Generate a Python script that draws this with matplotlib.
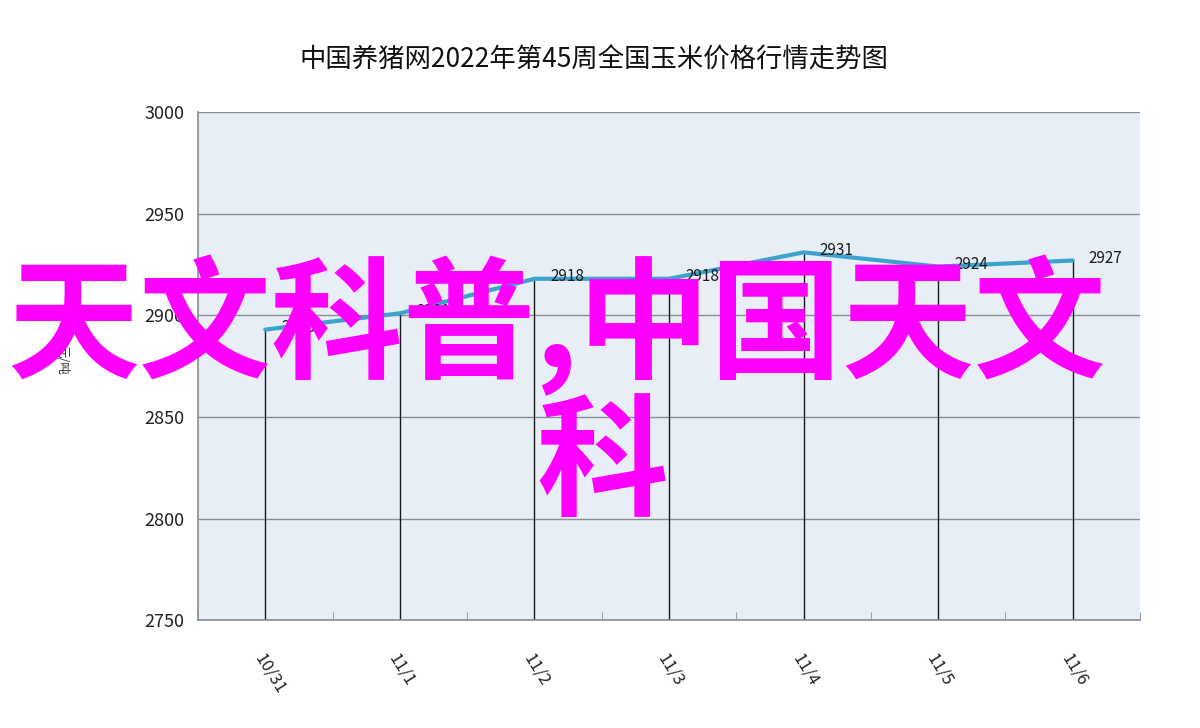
import matplotlib
matplotlib.use("Agg")
import matplotlib.pyplot as plt
import numpy as np

plt.rcParams["font.family"] = ["Noto Sans CJK SC", "DejaVu Sans"]

# ── Data ───────────────────────────────────────────────────────────────
dates = ["10/31", "11/1", "11/2", "11/3", "11/4", "11/5", "11/6"]
prices = [2893, 2901, 2918, 2918, 2931, 2924, 2927]
y_ticks = [2750, 2800, 2850, 2900, 2950, 3000]

title = "中国养猪网2022年第45周全国玉米价格行情走势图"
y_unit = "元/吨"
overlay_line1 = "天文科普,中国天文"
overlay_line2 = "科"

# ── Figure ─────────────────────────────────────────────────────────────
fig = plt.figure(figsize=(12, 7.28), dpi=100)
fig.patch.set_facecolor("white")
ax = fig.add_axes([0.165, 0.148, 0.785, 0.698])
ax.set_facecolor("#e8eef6")

x = np.arange(len(dates))

# horizontal grid
for yv in y_ticks:
    ax.axhline(yv, color="#8a8f96", linewidth=1.0, zorder=1)

# drop lines from each point down to the axis
ax.vlines(x, y_ticks[0], prices, color="#1a1a1a", linewidth=1.0, zorder=2)

# price line
ax.plot(x, prices, color="#3ba3cc", linewidth=3, solid_joinstyle="round",
        solid_capstyle="round", zorder=3)

# value labels
for xi, p in zip(x, prices):
    ax.text(xi + 0.12, p + 1.0, str(p), fontsize=11, color="#1a1a1a",
            fontweight="medium", ha="left", va="center", zorder=4)

ax.set_xlim(-0.5, len(dates) - 0.5)
ax.set_ylim(y_ticks[0], y_ticks[-1])
ax.set_yticks(y_ticks)
ax.set_xticks(x)
ax.set_xticklabels(dates, rotation=-58, ha="left", va="top",
                   rotation_mode="anchor", fontsize=12, color="#222222")
ax.set_xticks(np.arange(-0.5, len(dates), 1), minor=True)
ax.tick_params(axis="x", which="major", length=0, pad=22)
ax.tick_params(axis="x", which="minor", direction="in", length=6,
               color="#8a8f96")
ax.tick_params(axis="y", length=0, pad=10, labelsize=13,
               labelcolor="#222222")

for side in ["top", "right"]:
    ax.spines[side].set_visible(False)
for side in ["left", "bottom"]:
    ax.spines[side].set_color("#8a8f96")
    ax.spines[side].set_linewidth(1.2)

fig.text(0.495, 0.917, title, ha="center", va="center", fontsize=19,
         color="#111111")
fig.text(0.052, 0.505, y_unit, rotation=-90, ha="center", va="center",
         fontsize=9, color="#333333")

# ── Overlay text ───────────────────────────────────────────────────────
fig.text(0.006, 0.553, overlay_line1, ha="left", va="center", fontsize=95,
         color="#ff00ff", fontweight="bold", zorder=10)
fig.text(0.447, 0.36, overlay_line2, ha="left", va="center", fontsize=95,
         color="#ff00ff", fontweight="bold", zorder=10)

plt.savefig("out.png", dpi=100)
